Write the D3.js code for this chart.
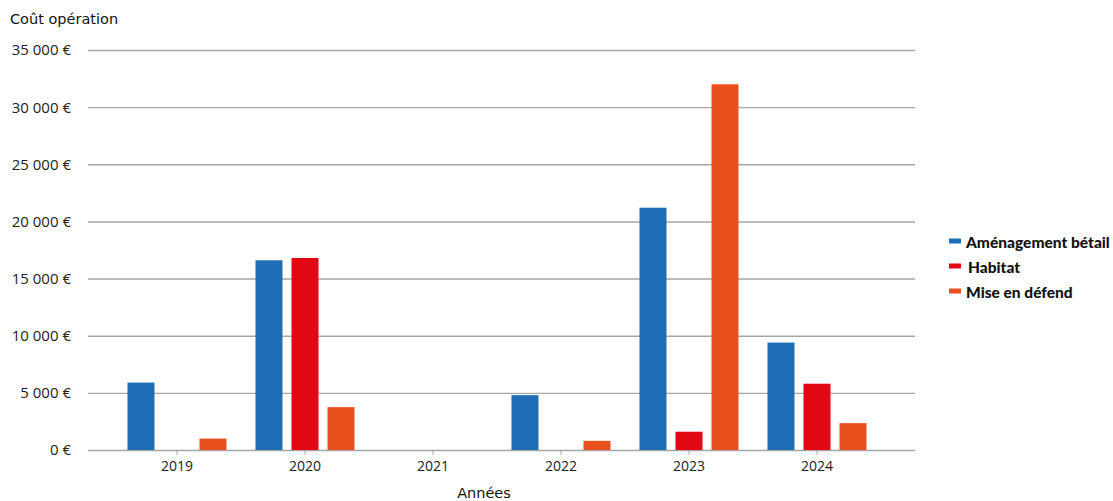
<!DOCTYPE html>
<html>
<head>
<meta charset="utf-8">
<script src="https://cdn.jsdelivr.net/npm/d3@7"></script>
<style>
  html, body { margin: 0; padding: 0; background: #ffffff; }
  svg { display: block; }
</style>
</head>
<body>
<svg id="chart" width="1113" height="501"></svg>
<script>
const years = ["2019", "2020", "2021", "2022", "2023", "2024"];
const seriesNames = ["Aménagement bétail", "Habitat", "Mise en défend"];
const amenagementBetail = [5900, 16600, 0, 4800, 21200, 9400];
const habitat = [0, 16800, 0, 0, 1600, 5800];
const miseEnDefend = [1000, 3750, 0, 800, 32000, 2350];
const yTicks = [0, 5000, 10000, 15000, 20000, 25000, 30000, 35000];
const colors = ["#1f6db5", "#e30613", "#e8511e"];

const series = [amenagementBetail, habitat, miseEnDefend];
const svg = d3.select("#chart");

const y = d3.scaleLinear().domain([0, 35000]).range([450, 50]);
const x0 = d3.scaleBand().domain(years).range([113, 881])
  .paddingInner(0.156).paddingOuter(0.078);
const x1 = d3.scaleBand().domain(seriesNames).range([0, x0.bandwidth()])
  .paddingInner(0.25).paddingOuter(0.125);

const fmt = v => (v === 0 ? "0" : d3.format(",")(v).replace(/,/g, " ")) + " €";

// gridlines
svg.append("g").selectAll("line").data(yTicks).join("line")
  .attr("x1", 88).attr("x2", 915)
  .attr("y1", d => y(d) + 0.5).attr("y2", d => y(d) + 0.5)
  .attr("stroke", "#a6a6a6").attr("stroke-width", 1.4);

// y labels
svg.append("g").selectAll("text").data(yTicks).join("text")
  .attr("x", 71).attr("y", d => y(d)).attr("dy", "0.36em")
  .attr("text-anchor", "end")
  .attr("font-family", "'Open Sans', sans-serif").attr("font-size", 15)
  .attr("fill", "#222")
  .text(fmt);

// bars
const groups = svg.append("g").selectAll("g").data(years).join("g")
  .attr("transform", d => `translate(${x0(d)},0)`);
groups.selectAll("rect")
  .data((yr, i) => seriesNames.map((s, j) => ({ s, j, v: series[j][i] })))
  .join("rect")
  .attr("x", d => x1(d.s))
  .attr("width", x1.bandwidth())
  .attr("y", d => y(d.v))
  .attr("height", d => y(0) - y(d.v))
  .attr("fill", d => colors[d.j]);

// x axis ticks
const xa = svg.append("g");
xa.selectAll("line").data(years).join("line")
  .attr("x1", d => x0(d) + x0.bandwidth() / 2).attr("x2", d => x0(d) + x0.bandwidth() / 2)
  .attr("y1", 450).attr("y2", 455)
  .attr("stroke", "#a6a6a6").attr("stroke-width", 1);
xa.selectAll("text").data(years).join("text")
  .attr("x", d => x0(d) + x0.bandwidth() / 2).attr("y", 471)
  .attr("text-anchor", "middle")
  .attr("font-family", "'Open Sans', sans-serif").attr("font-size", 14)
  .attr("fill", "#222")
  .text(d => d);

// titles
svg.append("text").attr("x", 10).attr("y", 24)
  .attr("font-family", "'DejaVu Sans', Verdana, sans-serif").attr("font-size", 14.5)
  .attr("fill", "#111").text("Coût opération");
svg.append("text").attr("x", 484).attr("y", 498).attr("text-anchor", "middle")
  .attr("font-family", "'DejaVu Sans', Verdana, sans-serif").attr("font-size", 14.5)
  .attr("fill", "#111").text("Années");

// legend
const lg = svg.append("g").selectAll("g").data(seriesNames).join("g")
  .attr("transform", (d, i) => `translate(949,${241 + i * 25})`);
lg.append("rect").attr("x", 0).attr("y", -2.5).attr("width", 12).attr("height", 5)
  .attr("fill", (d, i) => colors[i]);
lg.append("text").attr("x", (d, i) => i === 1 ? 19 : 17).attr("y", 6.5)
  .attr("font-family", "Lato, sans-serif").attr("font-weight", 900).attr("font-size", 15.5)
  .attr("fill", "#111").text(d => d);
</script>
</body>
</html>
